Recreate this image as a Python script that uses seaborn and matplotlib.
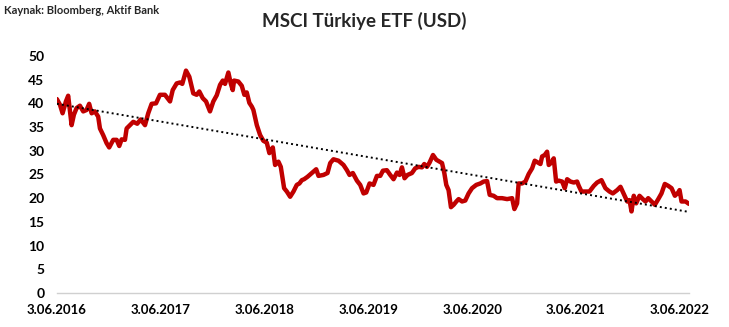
import numpy as np
import pandas as pd
import matplotlib
matplotlib.use("Agg")
import matplotlib.pyplot as plt
import matplotlib.dates as mdates
import seaborn as sns

# ---- data ----
start_date = "2016-06-03"
years_since_start = [
    0.00, 0.03, 0.055, 0.087, 0.109, 0.142, 0.164, 0.190, 0.222, 0.254, 0.286, 0.311,
    0.335, 0.366, 0.398, 0.415, 0.446, 0.479, 0.504, 0.543, 0.576, 0.601, 0.624, 0.656,
    0.672, 0.704, 0.736, 0.774, 0.807, 0.849, 0.880, 0.913, 0.955, 0.993, 1.041, 1.090,
    1.116, 1.154, 1.186, 1.208, 1.244, 1.276, 1.314, 1.347, 1.372, 1.405, 1.437, 1.475,
    1.507, 1.540, 1.572, 1.598, 1.620, 1.652, 1.675, 1.694, 1.707, 1.748, 1.781, 1.806,
    1.829, 1.854, 1.878, 1.893, 1.926, 1.958, 1.989, 2.022, 2.047, 2.080, 2.102, 2.134,
    2.157, 2.189, 2.215, 2.247, 2.279, 2.311, 2.336, 2.360, 2.382, 2.414, 2.456, 2.498,
    2.520, 2.568, 2.607, 2.633, 2.664, 2.713, 2.761, 2.794, 2.819, 2.851, 2.890, 2.922,
    2.954, 2.980, 3.012, 3.050, 3.083, 3.115, 3.141, 3.179, 3.211, 3.243, 3.276, 3.301,
    3.324, 3.349, 3.378, 3.420, 3.452, 3.484, 3.517, 3.539, 3.565, 3.590, 3.623, 3.655,
    3.687, 3.710, 3.732, 3.751, 3.773, 3.796, 3.822, 3.848, 3.870, 3.903, 3.934, 3.966,
    3.999, 4.040, 4.079, 4.111, 4.144, 4.169, 4.207, 4.240, 4.288, 4.337, 4.385, 4.407,
    4.433, 4.448, 4.481, 4.513, 4.545, 4.578, 4.603, 4.635, 4.658, 4.674, 4.699, 4.722,
    4.738, 4.764, 4.786, 4.809, 4.834, 4.867, 4.892, 4.915, 4.947, 4.979, 5.011, 5.027,
    5.053, 5.092, 5.130, 5.172, 5.204, 5.246, 5.284, 5.323, 5.355, 5.397, 5.429, 5.461,
    5.494, 5.516, 5.535, 5.557, 5.580, 5.612, 5.644, 5.670, 5.696, 5.728, 5.760, 5.793,
    5.824, 5.856, 5.889, 5.921, 5.953, 5.985, 5.998, 6.017, 6.056, 6.088,
]
etf_usd = [
    40.9, 39.7, 37.9, 40.4, 41.6, 35.4, 37.6, 39.0, 39.5, 38.3, 38.6, 39.9,
    37.9, 38.3, 37.2, 34.7, 33.3, 31.6, 30.7, 32.3, 32.3, 31.0, 32.4, 32.3,
    34.7, 35.4, 36.1, 35.7, 36.6, 35.4, 37.9, 39.9, 40.0, 41.8, 41.8, 40.4,
    42.8, 44.2, 44.4, 44.1, 46.9, 45.6, 42.1, 41.8, 42.5, 41.1, 40.4, 38.3,
    40.4, 41.7, 43.9, 44.8, 44.1, 46.5, 44.2, 42.8, 44.8, 44.6, 43.7, 41.8,
    42.3, 40.1, 39.3, 38.6, 35.4, 33.3, 32.1, 31.7, 29.5, 30.7, 27.0, 27.7,
    26.6, 22.1, 21.4, 20.3, 21.4, 22.8, 23.1, 23.8, 24.0, 24.5, 25.3, 26.1,
    24.7, 24.9, 25.3, 27.4, 28.2, 27.9, 27.0, 25.9, 24.9, 25.3, 23.7, 22.8,
    21.0, 21.2, 23.1, 22.8, 24.7, 24.7, 25.8, 25.9, 24.9, 24.0, 25.4, 24.9,
    26.5, 24.2, 24.9, 25.3, 26.3, 26.6, 26.5, 27.2, 26.6, 27.5, 29.1, 28.1,
    27.7, 27.4, 25.3, 22.8, 21.7, 18.1, 18.6, 19.3, 19.8, 19.3, 19.5, 21.0,
    22.1, 22.8, 23.1, 23.5, 23.6, 20.7, 20.5, 20.0, 20.0, 19.8, 20.0, 17.7,
    18.9, 23.1, 23.1, 23.5, 25.1, 26.3, 27.9, 27.5, 27.2, 28.8, 29.1, 29.8,
    27.0, 27.5, 28.4, 23.5, 23.7, 23.5, 22.1, 24.0, 23.5, 23.3, 23.5, 22.6,
    21.4, 21.4, 21.4, 22.6, 23.3, 23.8, 22.1, 21.4, 21.0, 21.7, 22.4, 20.9,
    19.3, 19.6, 17.2, 20.5, 18.9, 20.5, 19.8, 19.3, 20.0, 19.3, 18.6, 19.8,
    21.0, 23.0, 22.6, 22.1, 20.5, 21.2, 21.7, 19.3, 19.3, 18.8,
]
trend_years = [0.0, 6.088]
trend_values = [39.9, 17.1]
tick_labels = ["3.06.2016", "3.06.2017", "3.06.2018", "3.06.2019",
               "3.06.2020", "3.06.2021", "3.06.2022"]
y_ticks = [0, 5, 10, 15, 20, 25, 30, 35, 40, 45, 50]

title_text = "MSCI Türkiye ETF (USD)"
source_text = "Kaynak: Bloomberg, Aktif Bank"

# ---- build frames ----
t0 = pd.Timestamp(start_date)
def to_dates(yrs):
    return [t0 + pd.Timedelta(days=float(y) * 365.25) for y in yrs]

df = pd.DataFrame({"date": to_dates(years_since_start), "value": etf_usd})
trend_df = pd.DataFrame({"date": to_dates(trend_years), "value": trend_values})
tick_dates = [pd.Timestamp(f"{s.split('.')[2]}-06-03") for s in tick_labels]

sns.set_theme(style="white")
plt.rcParams["font.family"] = ["Lato", "DejaVu Sans"]

fig = plt.figure(figsize=(7.29, 3.27), dpi=100)
ax = fig.add_axes([0.078, 0.104, 0.867, 0.725])

sns.lineplot(data=df, x="date", y="value", ax=ax, color="#C00000",
             linewidth=3.2, solid_joinstyle="round", solid_capstyle="round")
sns.lineplot(data=trend_df, x="date", y="value", ax=ax, color="black",
             linewidth=1.4, linestyle=(0, (1, 1.6)))

ax.set_xlim(tick_dates[0], trend_df["date"].iloc[-1])
ax.set_ylim(0, 50)
ax.set_yticks(y_ticks)
ax.set_xticks(tick_dates)
ax.set_xticklabels(tick_labels)
ax.set_xlabel("")
ax.set_ylabel("")

for s in ["top", "right", "left"]:
    ax.spines[s].set_visible(False)
ax.spines["bottom"].set_color("#D0D0D0")
ax.spines["bottom"].set_linewidth(1.0)

ax.tick_params(axis="y", length=0, pad=9, labelsize=10)
ax.tick_params(axis="x", length=4, width=0.8, color="#D0D0D0",
               direction="out", pad=4, labelsize=9.5)
for lab in ax.get_xticklabels() + ax.get_yticklabels():
    lab.set_fontweight("bold")
    lab.set_color("black")

fig.text(0.5, 0.935, title_text, ha="center", va="center",
         fontsize=13.5, fontweight="bold")
fig.text(0.006, 0.968, source_text, ha="left", va="center",
         fontsize=8, fontweight="bold")

fig.savefig("out.png", dpi=100, facecolor="white")
